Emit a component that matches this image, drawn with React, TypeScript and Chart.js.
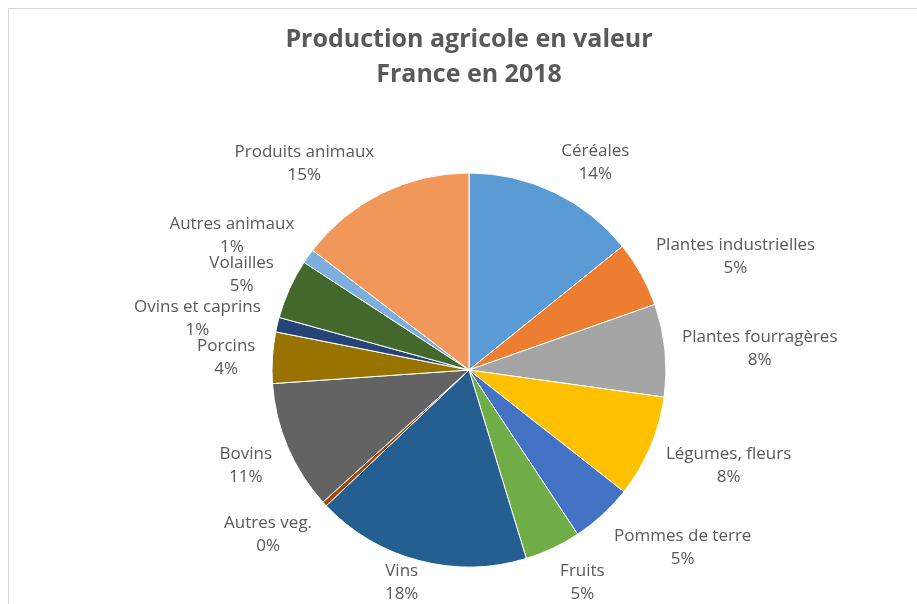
import React, { useEffect, useRef } from 'react';
import { Chart, registerables } from 'chart.js';

Chart.register(...registerables);

const titleLines = ['Production agricole en valeur', 'France en 2018'];

const categories = [
  'Céréales',
  'Plantes industrielles',
  'Plantes fourragères',
  'Légumes, fleurs',
  'Pommes de terre',
  'Fruits',
  'Vins',
  'Autres veg.',
  'Bovins',
  'Porcins',
  'Ovins et caprins',
  'Volailles',
  'Autres animaux',
  'Produits animaux',
];

const values = [14.2, 5.4, 7.6, 8.4, 5.1, 4.6, 17.6, 0.4, 10.6, 4.2, 1.2, 4.9, 1.2, 14.6];

const sliceColors = [
  '#5B9BD5',
  '#ED7D31',
  '#A5A5A5',
  '#FFC000',
  '#4472C4',
  '#70AD47',
  '#255E91',
  '#9E480E',
  '#636363',
  '#997300',
  '#264478',
  '#43682B',
  '#7CAFDD',
  '#F1975A',
];

const TEXT_COLOR = '#595959';

const outsideLabels = {
  id: 'outsideLabels',
  afterDatasetsDraw(chart: any) {
    const ctx = chart.ctx as CanvasRenderingContext2D;
    const meta = chart.getDatasetMeta(0);
    const data = chart.data.datasets[0].data as number[];
    const total = data.reduce((a: number, b: number) => a + b, 0);
    const lh = 23;
    const clamp = (v: number) => Math.max(-1, Math.min(1, v));
    ctx.save();
    ctx.font = '17px "Open Sans"';
    ctx.fillStyle = TEXT_COLOR;
    ctx.textAlign = 'center';
    ctx.textBaseline = 'middle';
    meta.data.forEach((arc: any, i: number) => {
      const { x, y, startAngle, endAngle, outerRadius } = arc.getProps(
        ['x', 'y', 'startAngle', 'endAngle', 'outerRadius'],
        true
      );
      const mid = (startAngle + endAngle) / 2;
      const ux = Math.cos(mid);
      const uy = Math.sin(mid);
      const lines = [String(chart.data.labels[i]), Math.round((data[i] / total) * 100) + '%'];
      const w = Math.max(...lines.map((l) => ctx.measureText(l).width));
      const h = lines.length * lh;
      const px = x + (outerRadius + 17) * ux;
      const py = y + (outerRadius + 11) * uy;
      let cx = px + (clamp(3 * ux) * w) / 2;
      let cy = py + (clamp(1.3 * uy) * h) / 2 + 3;
      cx = Math.max(w / 2, Math.min(chart.width - w / 2, cx));
      cy = Math.max(h / 2, Math.min(chart.height - h / 2 + 2, cy));
      lines.forEach((l, j) => ctx.fillText(l, cx, cy - h / 2 + lh * (j + 0.5)));
    });
    ctx.restore();
  },
};

export default function App() {
  const canvasRef = useRef<HTMLCanvasElement | null>(null);

  useEffect(() => {
    if (!canvasRef.current) return;
    const chart = new Chart(canvasRef.current, {
      type: 'pie',
      data: {
        labels: categories,
        datasets: [
          {
            data: values,
            backgroundColor: sliceColors,
            borderColor: '#ffffff',
            borderWidth: 1,
          },
        ],
      },
      options: {
        animation: false,
        responsive: true,
        maintainAspectRatio: false,
        radius: 197,
        layout: { padding: { left: 12, right: 0, top: 0, bottom: 0 } },
        events: [],
        plugins: {
          legend: { display: false },
          tooltip: { enabled: false },
          title: {
            display: true,
            text: titleLines,
            color: TEXT_COLOR,
            font: { family: '"Open Sans"', size: 25, weight: 'bold', lineHeight: 35 / 25 },
            padding: { top: 13, bottom: 44 },
          },
        },
      } as any,
      plugins: [outsideLabels],
    });
    return () => chart.destroy();
  }, []);

  return (
    <div
      style={{
        position: 'fixed',
        left: 8,
        top: 8,
        width: 930,
        height: 630,
        border: '1px solid #d9d9d9',
        background: '#ffffff',
        boxSizing: 'border-box',
        overflow: 'hidden',
      }}
    >
      <div style={{ position: 'relative', width: 908, height: 595 }}>
        <canvas ref={canvasRef} />
      </div>
    </div>
  );
}
